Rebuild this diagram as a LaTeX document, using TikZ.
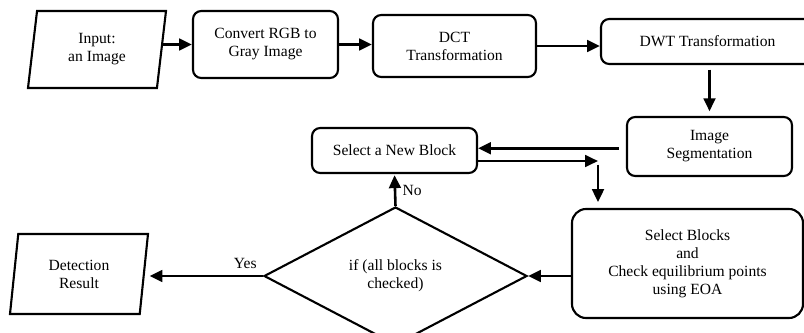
\documentclass[tikz,border=0pt]{standalone}
\usepackage{fontspec}
\setmainfont{Liberation Serif}
\usetikzlibrary{shapes.geometric,arrows.meta}

\begin{document}
\begin{tikzpicture}[x=0.03cm,y=-0.03cm,
font=\fontsize{13.3}{15.4}\selectfont,
>={Triangle[length=11pt,width=10pt]},
roundbox/.style={rectangle, draw, line width=1.8pt, rounded corners=7pt, align=center, inner sep=2pt},
bigroundbox/.style={roundbox, rounded corners=12pt},
iobox/.style={trapezium, trapezium left angle=76, trapezium right angle=104, trapezium stretches body, draw, line width=1.8pt, align=center, inner sep=2pt},
decision/.style={diamond, draw, line width=1.8pt, align=center, inner sep=0pt},
flow/.style={->, line width=2.2pt}
]
\clip (0,0) rectangle (804,333);

%Nodes
\node[iobox, minimum width=4.14cm, minimum height=2.31cm] at (97,49.5) (input) {Input:\\an Image};
\node[roundbox, minimum width=4.35cm, minimum height=2.01cm] at (265.5,44.5) (gray) {Convert RGB to\\Gray Image};
\node[roundbox, minimum width=4.89cm, minimum height=1.86cm] at (454.5,46) (dct) {DCT\\Transformation};
\node[roundbox, minimum width=6.39cm, minimum height=1.35cm] at (707.5,41.5) (dwt) {DWT Transformation};
\node[roundbox, minimum width=4.95cm, minimum height=1.77cm] at (709.5,146.5) (seg) {Image\\Segmentation};
\node[roundbox, minimum width=4.95cm, minimum height=1.35cm] at (394.5,150.5) (newblock) {Select a New Block};
\node[bigroundbox, minimum width=6.93cm, minimum height=3.27cm] at (687.5,263.5) (eoa) {Select Blocks\\and\\Check equilibrium points\\using EOA};
\node[decision, minimum width=7.89cm, minimum height=4.14cm] at (395.5,276) (check) {if (all blocks is\\checked)};
\node[iobox, minimum width=4.14cm, minimum height=2.4cm] at (79,274) (result) {Detection\\Result};
\coordinate (split) at (598,161);

%Lines
\draw[flow] (input.east |- gray.west) -- (gray.west);
\draw[flow] (gray.east) -- (gray.east -| dct.west);
\draw[flow] (dct.east) -- (dct.east -| dwt.west);
\draw[flow, shorten <=4pt, shorten >=4pt] (dwt.south -| seg.north) -- (seg.north);
\draw[flow, shorten <=6pt] ([yshift=-1.5pt]seg.west) -- ([yshift=-1.5pt]seg.west -| newblock.east);
\draw[flow] (newblock.east |- split) -- (split);
\draw[flow, shorten <=3pt, shorten >=5pt] (split) -- (split |- eoa.north);
\draw[flow, shorten >=1pt] (check.north) -- node[right=2pt] {No} (newblock.south);
\draw[flow] (eoa.west |- check.east) -- (check.east);
\draw[flow, shorten >=4pt] (check.west) -- node[above=2pt, pos=0.15] {Yes} (check.west -| result.east);

\end{tikzpicture}
\end{document}
